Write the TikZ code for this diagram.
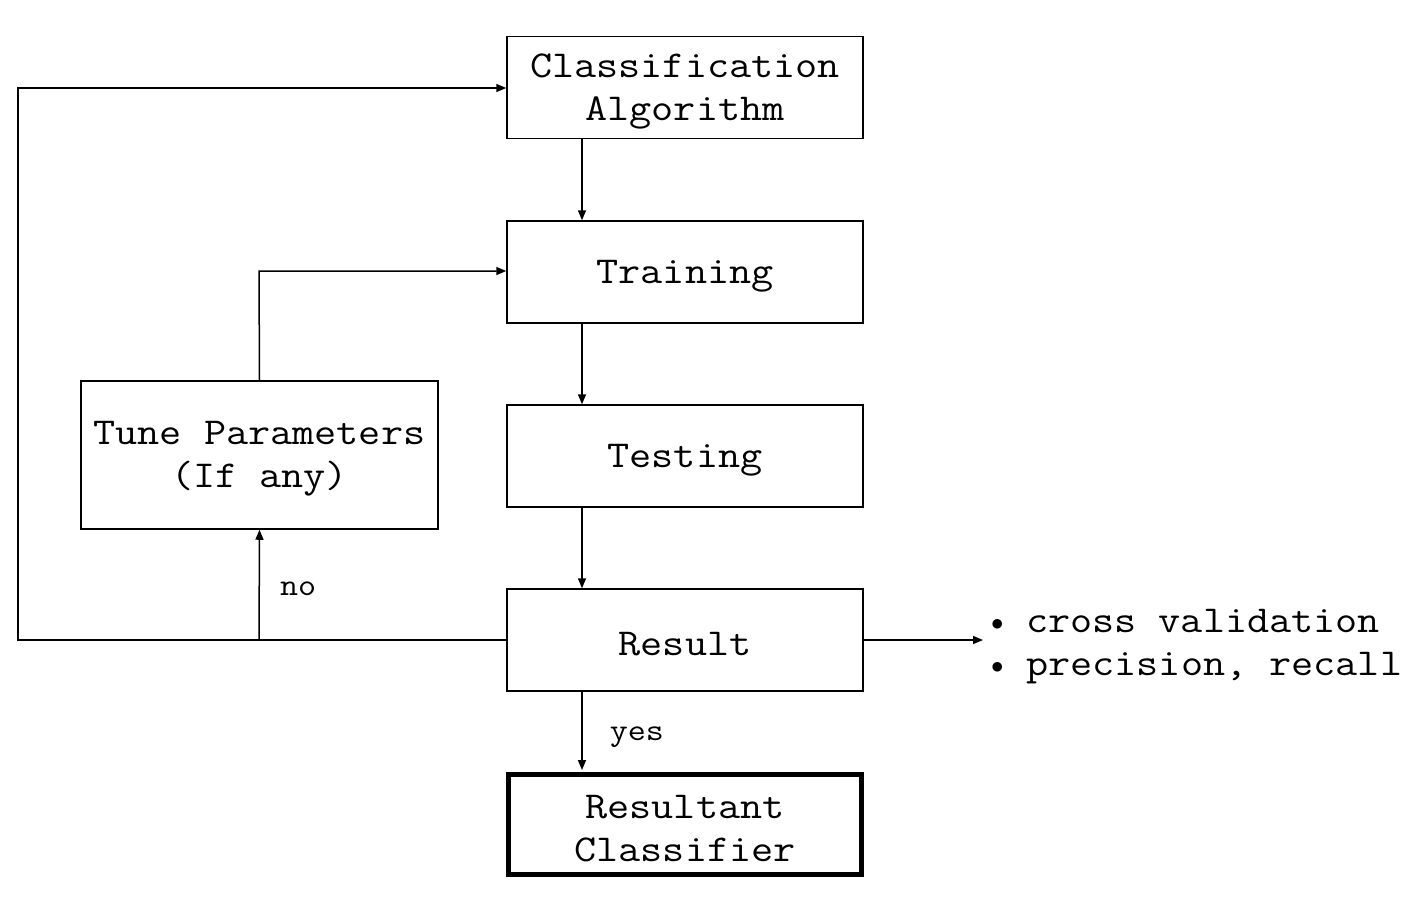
\documentclass[tikz,border=0pt]{standalone}
\usepackage{fontspec}
\setmonofont{Latin Modern Mono}[FakeStretch=1.13]
\usetikzlibrary{arrows.meta}
\newcommand{\bul}{\makebox[44pt][l]{\hspace{9pt}\raisebox{2pt}{\fontsize{24}{24}\selectfont$\bullet$}}}
\begin{document}
\begin{tikzpicture}[x=1pt,y=-1pt,
  txt/.style={align=center,inner sep=0pt,font=\ttfamily\fontsize{38}{43}\selectfont},
  box/.style={draw,line width=1.5pt,minimum width=356pt,minimum height=102pt,inner sep=0pt,
    label={[txt,yshift=-4pt]center:#1}},
  conn/.style={line width=1.5pt,-{Triangle[length=10pt,width=8pt]}},
  lbl/.style={font=\ttfamily\fontsize{31}{36}\selectfont,inner sep=0pt}]
\useasboundingbox (0,0) rectangle (1420,910);
\node[box={Classification\\Algorithm}] (ca) at (685,87.5) {};
\node[box=Training] (tr) at (685,272) {};
\node[box=Testing] (te) at (685,456) {};
\node[box=Result] (re) at (685,640) {};
\node[box={Resultant\\Classifier},line width=5pt,minimum width=353pt,minimum height=100pt] (rc) at (685,824.5) {};
\node[box={Tune Parameters\\(If any)},minimum width=357pt,minimum height=148pt] (tp) at (259.5,455) {};
\node[anchor=west,txt,align=left] (bl) at (982,647) {\bul cross validation\\\bul precision, recall};
\coordinate (ll) at (18,640);
\coordinate (lu) at (18,88);
\coordinate (nj) at (259,640);
\coordinate (tu) at (259,271);
\draw[conn] (ca.south -| 582,0) -- (tr.north -| 582,0);
\draw[conn] (tr.south -| 582,0) -- (te.north -| 582,0);
\draw[conn] (te.south -| 582,0) -- (re.north -| 582,0);
\draw[conn] (re.south -| 582,0) -- node[right=27pt,lbl,yshift=-6pt] {yes} ([yshift=2pt]rc.north -| 582,0);
\draw[conn] (re.west) -- (ll) -- (lu) -- (ca.west |- lu);
\draw[conn] (nj) -- node[right=20pt,lbl,yshift=-4pt] {no} (tp.south);
\draw[conn] (tp.north) -- (tu) -- (tr.west |- tu);
\draw[conn] (re.east) -- (983,640);
\end{tikzpicture}
\end{document}
